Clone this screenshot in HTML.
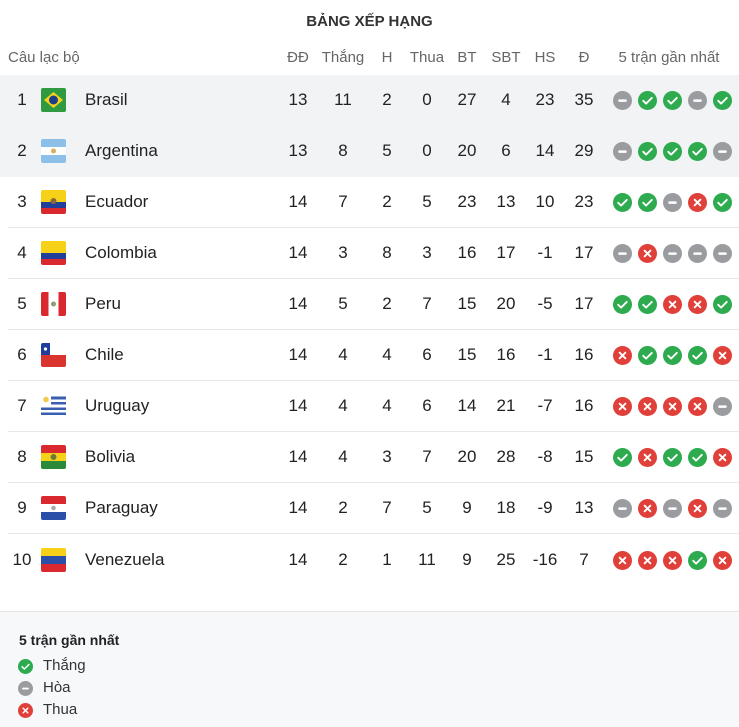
<!DOCTYPE html>
<html><head><meta charset="utf-8">
<style>
*{margin:0;padding:0;box-sizing:border-box}
body{width:739px;height:727px;background:#fff;font-family:"Liberation Sans",Arial,sans-serif;color:#222;position:relative;overflow:hidden}
.t{position:absolute;top:13px;left:0;width:739px;text-align:center;font-weight:bold;font-size:15px;color:#333}
.h{position:absolute;top:49px;font-size:15px;color:#666;white-space:nowrap}
.c{position:absolute;transform:translateX(-50%)}
.r{position:absolute;left:0;width:739px;height:51px;font-size:17px}
.r.g{background:#f2f3f5}
.r.b{border-bottom:1px solid #e8e8ea;left:8px;width:731px}
.r span{position:absolute;top:15px;white-space:nowrap}
.f{position:absolute;left:41px;top:13px;width:25px;height:24px;border-radius:2px;overflow:hidden}
.r.b .f{left:33px}
.ic{position:absolute;top:16px;width:19px;height:19px}
.foot{position:absolute;left:0;top:611px;width:739px;height:116px;background:#f7f8fa;border-top:1px solid #e6e6e6}
</style></head><body>
<svg width="0" height="0" style="position:absolute">
<symbol id="w" viewBox="0 0 20 20"><circle cx="10" cy="10" r="10" fill="#2eaa4f"/><path d="M5.5 10.3l3 3 6-6" stroke="#fff" stroke-width="2" fill="none" stroke-linecap="round" stroke-linejoin="round"/></symbol>
<symbol id="d" viewBox="0 0 20 20"><circle cx="10" cy="10" r="10" fill="#9a9ca0"/><rect x="5.5" y="8.8" width="9" height="2.6" rx="1.2" fill="#fff"/></symbol>
<symbol id="l" viewBox="0 0 20 20"><circle cx="10" cy="10" r="10" fill="#e0403a"/><path d="M7 7l6 6M13 7l-6 6" stroke="#fff" stroke-width="2" stroke-linecap="round"/></symbol>
</svg>
<div class="t">BẢNG XẾP HẠNG</div>
<div class="h" style="left:8px">Câu lạc bộ</div>
<div class="h c" style="left:298px">ĐĐ</div>
<div class="h c" style="left:343px">Thắng</div>
<div class="h c" style="left:387px">H</div>
<div class="h c" style="left:427px">Thua</div>
<div class="h c" style="left:467px">BT</div>
<div class="h c" style="left:506px">SBT</div>
<div class="h c" style="left:545px">HS</div>
<div class="h c" style="left:584px">Đ</div>
<div class="h c" style="left:669px">5 trận gần nhất</div>

<div class="r g" style="top:75px"><span class="c" style="left:22px">1</span><div class="f" style="background:#2f9a3f"><svg width="25" height="24"><polygon points="12.5,4 22,12 12.5,20 3,12" fill="#f4d21a"/><circle cx="12.5" cy="12" r="4.5" fill="#1c3e8c"/></svg></div><span style="left:85px">Brasil</span><span class="c" style="left:298px">13</span><span class="c" style="left:343px">11</span><span class="c" style="left:387px">2</span><span class="c" style="left:427px">0</span><span class="c" style="left:467px">27</span><span class="c" style="left:506px">4</span><span class="c" style="left:545px">23</span><span class="c" style="left:584px">35</span>
<svg class="ic" style="left:613px"><use href="#d"/></svg><svg class="ic" style="left:638px"><use href="#w"/></svg><svg class="ic" style="left:663px"><use href="#w"/></svg><svg class="ic" style="left:688px"><use href="#d"/></svg><svg class="ic" style="left:713px"><use href="#w"/></svg></div>

<div class="r g" style="top:126px"><span class="c" style="left:22px">2</span><div class="f" style="background:linear-gradient(#8cc0e8 0 33%,#fff 33% 67%,#8cc0e8 67%)"><svg width="25" height="24"><circle cx="12.5" cy="12" r="2.5" fill="#d8b060"/></svg></div><span style="left:85px">Argentina</span><span class="c" style="left:298px">13</span><span class="c" style="left:343px">8</span><span class="c" style="left:387px">5</span><span class="c" style="left:427px">0</span><span class="c" style="left:467px">20</span><span class="c" style="left:506px">6</span><span class="c" style="left:545px">14</span><span class="c" style="left:584px">29</span>
<svg class="ic" style="left:613px"><use href="#d"/></svg><svg class="ic" style="left:638px"><use href="#w"/></svg><svg class="ic" style="left:663px"><use href="#w"/></svg><svg class="ic" style="left:688px"><use href="#w"/></svg><svg class="ic" style="left:713px"><use href="#d"/></svg></div>

<div class="r b" style="top:177px"><span class="c" style="left:14px">3</span><div class="f" style="background:linear-gradient(#f7d117 0 50%,#1f3f9a 50% 75%,#d9292e 75%)"><svg width="25" height="24"><circle cx="12.5" cy="11" r="3" fill="#8a6a3a"/></svg></div><span style="left:77px">Ecuador</span><span class="c" style="left:290px">14</span><span class="c" style="left:335px">7</span><span class="c" style="left:379px">2</span><span class="c" style="left:419px">5</span><span class="c" style="left:459px">23</span><span class="c" style="left:498px">13</span><span class="c" style="left:537px">10</span><span class="c" style="left:576px">23</span>
<svg class="ic" style="left:605px"><use href="#w"/></svg><svg class="ic" style="left:630px"><use href="#w"/></svg><svg class="ic" style="left:655px"><use href="#d"/></svg><svg class="ic" style="left:680px"><use href="#l"/></svg><svg class="ic" style="left:705px"><use href="#w"/></svg></div>

<div class="r b" style="top:228px"><span class="c" style="left:14px">4</span><div class="f" style="background:linear-gradient(#f7d117 0 50%,#1f3f9a 50% 75%,#d9292e 75%)"></div><span style="left:77px">Colombia</span><span class="c" style="left:290px">14</span><span class="c" style="left:335px">3</span><span class="c" style="left:379px">8</span><span class="c" style="left:419px">3</span><span class="c" style="left:459px">16</span><span class="c" style="left:498px">17</span><span class="c" style="left:537px">-1</span><span class="c" style="left:576px">17</span>
<svg class="ic" style="left:605px"><use href="#d"/></svg><svg class="ic" style="left:630px"><use href="#l"/></svg><svg class="ic" style="left:655px"><use href="#d"/></svg><svg class="ic" style="left:680px"><use href="#d"/></svg><svg class="ic" style="left:705px"><use href="#d"/></svg></div>

<div class="r b" style="top:279px"><span class="c" style="left:14px">5</span><div class="f" style="background:linear-gradient(90deg,#d9292e 0 30%,#fff 30% 70%,#d9292e 70%)"><svg width="25" height="24"><circle cx="12.5" cy="12" r="2.5" fill="#8aa070"/></svg></div><span style="left:77px">Peru</span><span class="c" style="left:290px">14</span><span class="c" style="left:335px">5</span><span class="c" style="left:379px">2</span><span class="c" style="left:419px">7</span><span class="c" style="left:459px">15</span><span class="c" style="left:498px">20</span><span class="c" style="left:537px">-5</span><span class="c" style="left:576px">17</span>
<svg class="ic" style="left:605px"><use href="#w"/></svg><svg class="ic" style="left:630px"><use href="#w"/></svg><svg class="ic" style="left:655px"><use href="#l"/></svg><svg class="ic" style="left:680px"><use href="#l"/></svg><svg class="ic" style="left:705px"><use href="#w"/></svg></div>

<div class="r b" style="top:330px"><span class="c" style="left:14px">6</span><div class="f" style="background:linear-gradient(#fff 0 50%,#d9352e 50%)"><svg width="25" height="24"><rect width="9" height="12" fill="#1f3f9a"/><circle cx="4.5" cy="6" r="1.6" fill="#fff"/></svg></div><span style="left:77px">Chile</span><span class="c" style="left:290px">14</span><span class="c" style="left:335px">4</span><span class="c" style="left:379px">4</span><span class="c" style="left:419px">6</span><span class="c" style="left:459px">15</span><span class="c" style="left:498px">16</span><span class="c" style="left:537px">-1</span><span class="c" style="left:576px">16</span>
<svg class="ic" style="left:605px"><use href="#l"/></svg><svg class="ic" style="left:630px"><use href="#w"/></svg><svg class="ic" style="left:655px"><use href="#w"/></svg><svg class="ic" style="left:680px"><use href="#w"/></svg><svg class="ic" style="left:705px"><use href="#l"/></svg></div>

<div class="r b" style="top:381px"><span class="c" style="left:14px">7</span><div class="f" style="background:repeating-linear-gradient(#fff 0 2.7px,#3a5fb0 2.7px 5.3px)"><svg width="25" height="24"><rect width="10" height="11" fill="#fff"/><circle cx="5" cy="5.5" r="2.8" fill="#f2c94c"/></svg></div><span style="left:77px">Uruguay</span><span class="c" style="left:290px">14</span><span class="c" style="left:335px">4</span><span class="c" style="left:379px">4</span><span class="c" style="left:419px">6</span><span class="c" style="left:459px">14</span><span class="c" style="left:498px">21</span><span class="c" style="left:537px">-7</span><span class="c" style="left:576px">16</span>
<svg class="ic" style="left:605px"><use href="#l"/></svg><svg class="ic" style="left:630px"><use href="#l"/></svg><svg class="ic" style="left:655px"><use href="#l"/></svg><svg class="ic" style="left:680px"><use href="#l"/></svg><svg class="ic" style="left:705px"><use href="#d"/></svg></div>

<div class="r b" style="top:432px"><span class="c" style="left:14px">8</span><div class="f" style="background:linear-gradient(#d9292e 0 33%,#f7d117 33% 67%,#2a8a3a 67%)"><svg width="25" height="24"><circle cx="12.5" cy="12" r="3" fill="#6a7a3a"/></svg></div><span style="left:77px">Bolivia</span><span class="c" style="left:290px">14</span><span class="c" style="left:335px">4</span><span class="c" style="left:379px">3</span><span class="c" style="left:419px">7</span><span class="c" style="left:459px">20</span><span class="c" style="left:498px">28</span><span class="c" style="left:537px">-8</span><span class="c" style="left:576px">15</span>
<svg class="ic" style="left:605px"><use href="#w"/></svg><svg class="ic" style="left:630px"><use href="#l"/></svg><svg class="ic" style="left:655px"><use href="#w"/></svg><svg class="ic" style="left:680px"><use href="#w"/></svg><svg class="ic" style="left:705px"><use href="#l"/></svg></div>

<div class="r b" style="top:483px"><span class="c" style="left:14px">9</span><div class="f" style="background:linear-gradient(#d9292e 0 33%,#fff 33% 67%,#2a4fa8 67%)"><svg width="25" height="24"><circle cx="12.5" cy="12" r="2.3" fill="#aaa"/></svg></div><span style="left:77px">Paraguay</span><span class="c" style="left:290px">14</span><span class="c" style="left:335px">2</span><span class="c" style="left:379px">7</span><span class="c" style="left:419px">5</span><span class="c" style="left:459px">9</span><span class="c" style="left:498px">18</span><span class="c" style="left:537px">-9</span><span class="c" style="left:576px">13</span>
<svg class="ic" style="left:605px"><use href="#d"/></svg><svg class="ic" style="left:630px"><use href="#l"/></svg><svg class="ic" style="left:655px"><use href="#d"/></svg><svg class="ic" style="left:680px"><use href="#l"/></svg><svg class="ic" style="left:705px"><use href="#d"/></svg></div>

<div class="r" style="top:535px;left:8px;width:731px"><span class="c" style="left:14px">10</span><div class="f" style="left:33px;background:linear-gradient(#f7d117 0 33%,#2a4fa8 33% 67%,#d9292e 67%)"></div><span style="left:77px">Venezuela</span><span class="c" style="left:290px">14</span><span class="c" style="left:335px">2</span><span class="c" style="left:379px">1</span><span class="c" style="left:419px">11</span><span class="c" style="left:459px">9</span><span class="c" style="left:498px">25</span><span class="c" style="left:537px">-16</span><span class="c" style="left:576px">7</span>
<svg class="ic" style="left:605px"><use href="#l"/></svg><svg class="ic" style="left:630px"><use href="#l"/></svg><svg class="ic" style="left:655px"><use href="#l"/></svg><svg class="ic" style="left:680px"><use href="#w"/></svg><svg class="ic" style="left:705px"><use href="#l"/></svg></div>

<div class="foot">
<div style="position:absolute;left:19px;top:20px;font-weight:bold;font-size:14px;color:#222">5 trận gần nhất</div>
<svg style="position:absolute;left:18px;top:47px" width="15" height="15"><use href="#w"/></svg>
<div style="position:absolute;left:43px;top:45px;font-size:15px;color:#333">Thắng</div>
<svg style="position:absolute;left:18px;top:69px" width="15" height="15"><use href="#d"/></svg>
<div style="position:absolute;left:43px;top:67px;font-size:15px;color:#333">Hòa</div>
<svg style="position:absolute;left:18px;top:91px" width="15" height="15"><use href="#l"/></svg>
<div style="position:absolute;left:43px;top:89px;font-size:15px;color:#333">Thua</div>
</div>
</body></html>
